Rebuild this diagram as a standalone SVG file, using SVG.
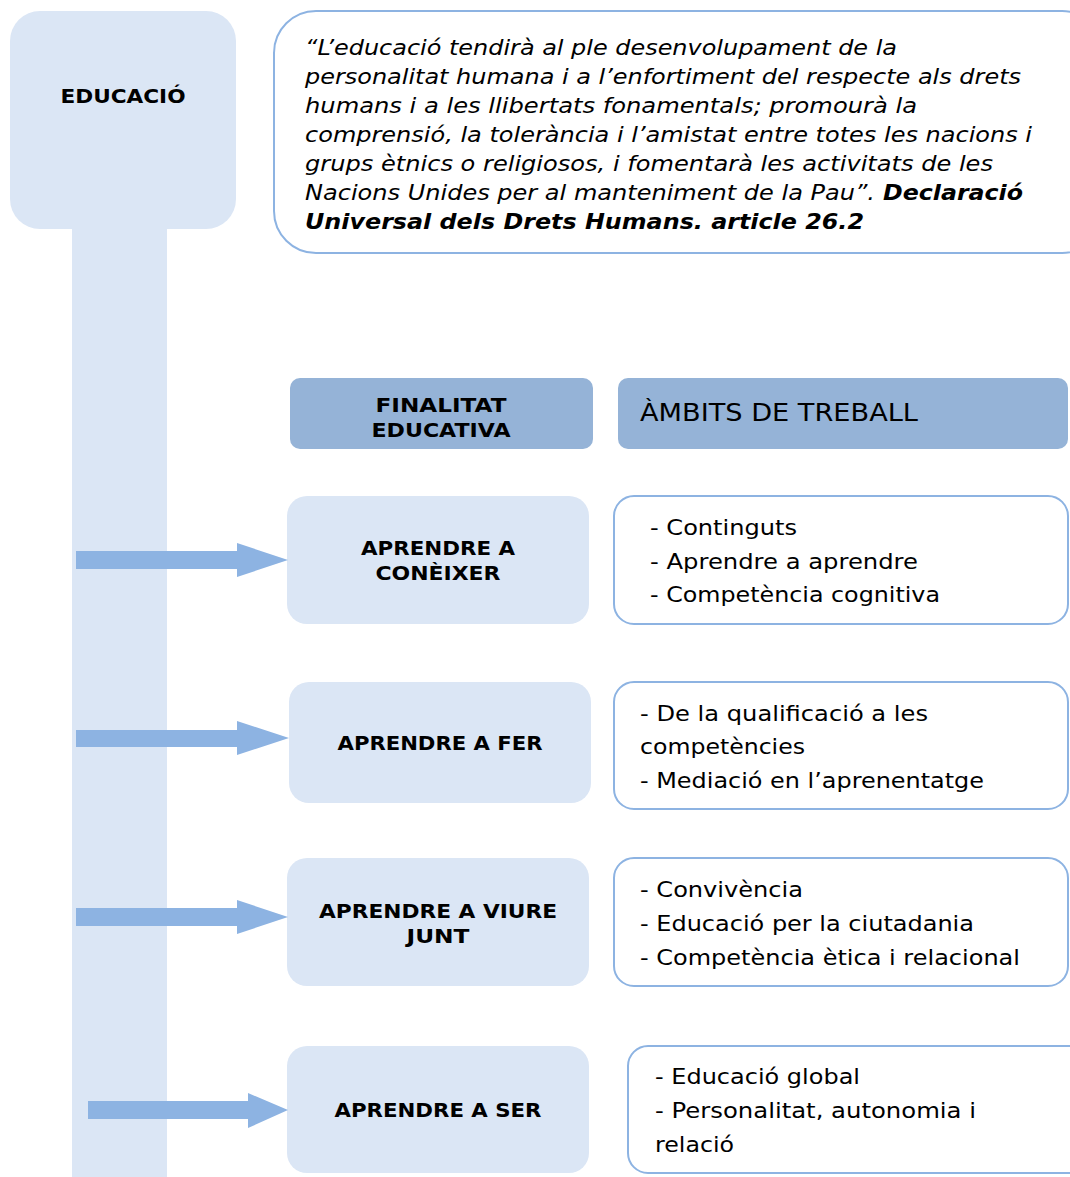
<svg xmlns="http://www.w3.org/2000/svg" width="1070" height="1177" viewBox="0 0 1070 1177">
<style>
.lt{fill:#dbe6f5;}
.hd{fill:#95b3d7;}
.wb{fill:#ffffff;stroke:#8db3e2;stroke-width:2;}
.arr{fill:#8db3e2;}
text{font-family:"DejaVu Sans","Verdana",sans-serif;fill:#000;}
.b{font-weight:bold;font-size:20px;text-anchor:middle;}
.q{font-style:italic;font-size:21px;}
.qb{font-style:italic;font-weight:bold;}
.r{font-size:22px;}
</style>
<rect width="1070" height="1177" fill="#ffffff"/>
<g id="educacio">
<rect class="lt" x="72" y="200" width="95" height="977"/>
<rect class="lt" x="10" y="11" width="226" height="218" rx="30"/>
<text class="b" x="123" y="103" textLength="125" lengthAdjust="spacingAndGlyphs">EDUCACIÓ</text>
</g>
<g id="quote">
<rect class="wb" x="274" y="11" width="830" height="242" rx="42"/>
<text class="q" x="305" y="55" textLength="592" lengthAdjust="spacingAndGlyphs">“L’educació tendirà al ple desenvolupament de la</text>
<text class="q" x="305" y="84" textLength="716" lengthAdjust="spacingAndGlyphs">personalitat humana i a l’enfortiment del respecte als drets</text>
<text class="q" x="305" y="113" textLength="612" lengthAdjust="spacingAndGlyphs">humans i a les llibertats fonamentals; promourà la</text>
<text class="q" x="305" y="142" textLength="727" lengthAdjust="spacingAndGlyphs">comprensió, la tolerància i l’amistat entre totes les nacions i</text>
<text class="q" x="305" y="171" textLength="688" lengthAdjust="spacingAndGlyphs">grups ètnics o religiosos, i fomentarà les activitats de les</text>
<text class="q" x="305" y="200" textLength="570" lengthAdjust="spacingAndGlyphs">Nacions Unides per al manteniment de la Pau”.</text>
<text class="q qb" x="883" y="200" textLength="140" lengthAdjust="spacingAndGlyphs">Declaració</text>
<text class="q qb" x="305" y="229" textLength="559" lengthAdjust="spacingAndGlyphs">Universal dels Drets Humans. article 26.2</text>
</g>
<g id="hdr-finalitat">
<rect class="hd" x="290" y="378" width="303" height="71" rx="10"/>
<text class="b" x="441" y="412" textLength="131" lengthAdjust="spacingAndGlyphs">FINALITAT</text>
<text class="b" x="441" y="437" textLength="139" lengthAdjust="spacingAndGlyphs">EDUCATIVA</text>
</g>
<g id="hdr-ambits">
<rect class="hd" x="618" y="378" width="450" height="71" rx="10"/>
<text x="640" y="421" font-size="25" textLength="278" lengthAdjust="spacingAndGlyphs">ÀMBITS DE TREBALL</text>
</g>
<g id="n1">
<rect class="lt" x="287" y="496" width="302" height="128" rx="20"/>
<text class="b" x="438" y="555" textLength="154" lengthAdjust="spacingAndGlyphs">APRENDRE A</text>
<text class="b" x="438" y="580" textLength="125" lengthAdjust="spacingAndGlyphs">CONÈIXER</text>
</g>
<g id="a1">
<rect class="wb" x="614" y="496" width="454" height="128" rx="20"/>
<text class="r" x="650" y="535" textLength="147" lengthAdjust="spacingAndGlyphs">- Continguts</text>
<text class="r" x="650" y="569" textLength="268" lengthAdjust="spacingAndGlyphs">- Aprendre a aprendre</text>
<text class="r" x="650" y="602" textLength="290" lengthAdjust="spacingAndGlyphs">- Competència cognitiva</text>
</g>
<g id="n2">
<rect class="lt" x="289" y="682" width="302" height="121" rx="20"/>
<text class="b" x="440" y="750" textLength="205" lengthAdjust="spacingAndGlyphs">APRENDRE A FER</text>
</g>
<g id="a2">
<rect class="wb" x="614" y="682" width="454" height="127" rx="20"/>
<text class="r" x="640" y="721" textLength="288" lengthAdjust="spacingAndGlyphs">- De la qualificació a les</text>
<text class="r" x="640" y="754" textLength="165" lengthAdjust="spacingAndGlyphs">competències</text>
<text class="r" x="640" y="788" textLength="344" lengthAdjust="spacingAndGlyphs">- Mediació en l’aprenentatge</text>
</g>
<g id="n3">
<rect class="lt" x="287" y="858" width="302" height="128" rx="20"/>
<text class="b" x="438" y="918" textLength="238" lengthAdjust="spacingAndGlyphs">APRENDRE A VIURE</text>
<text class="b" x="438" y="943" textLength="63" lengthAdjust="spacingAndGlyphs">JUNT</text>
</g>
<g id="a3">
<rect class="wb" x="614" y="858" width="454" height="128" rx="20"/>
<text class="r" x="640" y="897" textLength="163" lengthAdjust="spacingAndGlyphs">- Convivència</text>
<text class="r" x="640" y="931" textLength="334" lengthAdjust="spacingAndGlyphs">- Educació per la ciutadania</text>
<text class="r" x="640" y="965" textLength="380" lengthAdjust="spacingAndGlyphs">- Competència ètica i relacional</text>
</g>
<g id="n4">
<rect class="lt" x="287" y="1046" width="302" height="127" rx="20"/>
<text class="b" x="438" y="1117" textLength="207" lengthAdjust="spacingAndGlyphs">APRENDRE A SER</text>
</g>
<g id="a4">
<rect class="wb" x="628" y="1046" width="470" height="127" rx="20"/>
<text class="r" x="655" y="1084" textLength="205" lengthAdjust="spacingAndGlyphs">- Educació global</text>
<text class="r" x="655" y="1118" textLength="321" lengthAdjust="spacingAndGlyphs">- Personalitat, autonomia i</text>
<text class="r" x="655" y="1152" textLength="79" lengthAdjust="spacingAndGlyphs">relació</text>
</g>
<g id="connectors">
<polygon class="arr" points="76,551 237,551 237,543 288,560 237,577 237,569 76,569"/>
<polygon class="arr" points="76,730 237,730 237,721 289,738 237,755 237,747 76,747"/>
<polygon class="arr" points="76,908 237,908 237,900 288,917 237,934 237,926 76,926"/>
<polygon class="arr" points="88,1101 248,1101 248,1093 288,1110 248,1128 248,1119 88,1119"/>
</g>
</svg>
